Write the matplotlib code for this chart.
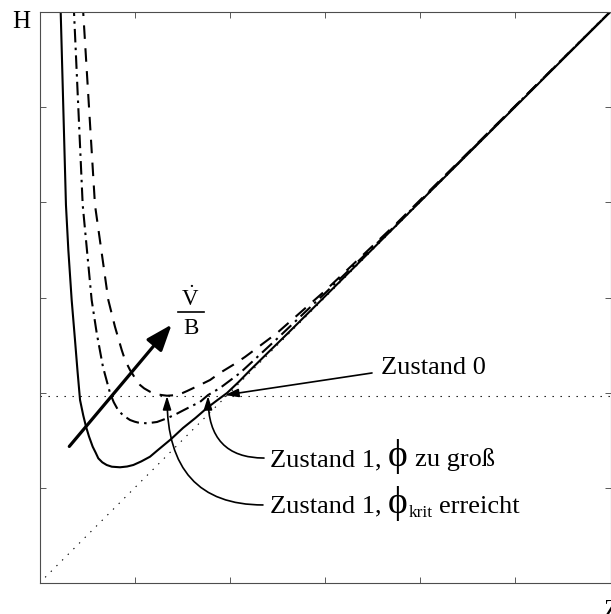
import matplotlib
matplotlib.use('Agg')
import matplotlib.pyplot as plt
from matplotlib.lines import Line2D

plt.rcParams['font.family'] = ['Liberation Serif', 'DejaVu Serif']
plt.rcParams['mathtext.fontset'] = 'custom'
plt.rcParams['mathtext.rm'] = 'Liberation Serif'
plt.rcParams['mathtext.it'] = 'Liberation Serif:italic'

# curves (z, H)
z_solid = [0.220, 0.278, 0.303, 0.338, 0.373, 0.400, 0.426, 0.460, 0.489, 0.520, 0.559, 0.590,
           0.618, 0.660, 0.706, 0.760, 0.846, 0.920, 0.986, 1.070, 1.161, 1.245, 1.380, 1.508,
           1.640, 1.760, 1.860, 1.970, 2.090, 2.212, 2.400, 2.600, 3.000, 4.000, 5.000, 6.000, 6.100]
H_solid = [6.100, 3.972, 3.499, 2.974, 2.553, 2.220, 1.923, 1.760, 1.642, 1.540, 1.432, 1.370,
           1.310, 1.268, 1.240, 1.222, 1.216, 1.224, 1.240, 1.278, 1.327, 1.398, 1.510, 1.629,
           1.735, 1.839, 1.915, 1.996, 2.110, 2.235, 2.420, 2.615, 3.012, 4.008, 5.005, 6.003, 6.103]

z_dashdot = [0.358, 0.454, 0.548, 0.601, 0.667, 0.741, 0.780, 0.825, 0.880, 0.951, 1.000, 1.035,
             1.130, 1.235, 1.340, 1.430, 1.518, 1.600, 1.686, 1.771, 1.897, 2.107, 2.300, 2.500,
             3.000, 3.756, 5.000, 6.000, 6.100]
H_dashdot = [6.100, 3.972, 2.974, 2.627, 2.270, 1.996, 1.900, 1.818, 1.760, 1.713, 1.695, 1.686,
             1.678, 1.692, 1.731, 1.772, 1.818, 1.860, 1.902, 1.975, 2.049, 2.207, 2.385, 2.570,
             3.045, 3.772, 5.012, 6.007, 6.107]

z_dashed = [0.453, 0.583, 0.723, 0.793, 0.864, 0.900, 0.951, 1.000, 1.056, 1.100, 1.161, 1.200,
            1.245, 1.290, 1.340, 1.445, 1.500, 1.550, 1.620, 1.686, 1.792, 1.900, 2.033, 2.159,
            2.300, 2.496, 3.000, 3.756, 5.000, 6.000, 6.100]
H_dashed = [6.100, 3.972, 2.974, 2.693, 2.448, 2.340, 2.238, 2.160, 2.081, 2.045, 2.010, 1.995,
            1.981, 1.974, 1.968, 1.975, 1.995, 2.017, 2.050, 2.081, 2.133, 2.210, 2.291, 2.375,
            2.480, 2.627, 3.070, 3.783, 5.015, 6.006, 6.106]

# reference lines
z_diag = [0, 6]
H_diag = [0, 6]
H_level = 1.97

# arrows: (tail), (tip)
vb_arrow = [(0.313, 1.435), (1.389, 2.716)]
arr_zustand0 = [(3.494, 2.207), (1.949, 1.975)]
arr_gross = [(2.359, 1.313), (1.771, 1.965)]
arr_krit = [(2.348, 0.820), (1.340, 1.965)]

W, Hpx = 611, 614
fig = plt.figure(figsize=(W / 100, Hpx / 100), dpi=100)
ax = fig.add_axes([39.5 / W, 31 / Hpx, 571 / W, 571 / Hpx])


def ftxt(px, py, s, **kw):
    fig.text(px / W, 1 - py / Hpx, s, **kw)


ax.plot(z_diag, H_diag, color='k', lw=0.8, ls=(0, (1.2, 6)))
ax.plot([0, 6], [H_level, H_level], color='k', lw=0.8, ls=(0, (1.2, 6)))

ax.plot(z_solid, H_solid, color='k', lw=1.5, solid_joinstyle='round')
ax.plot(z_dashdot, H_dashdot, color='k', lw=1.5, ls=(0, (6.5, 2.5, 1.2, 2.5)))
ax.plot(z_dashed, H_dashed, color='k', lw=1.5, ls=(0, (6.5, 4.5)))

ax.annotate('', xy=vb_arrow[1], xytext=vb_arrow[0],
            arrowprops=dict(arrowstyle='-|>,head_length=1.6,head_width=0.6', lw=2.3,
                            color='k', mutation_scale=10, shrinkA=0, shrinkB=0))
ax.annotate('', xy=arr_zustand0[1], xytext=arr_zustand0[0],
            arrowprops=dict(arrowstyle='-|>,head_length=0.8,head_width=0.25', lw=1.2,
                            color='k', mutation_scale=10, shrinkA=0, shrinkB=0))
ax.annotate('', xy=arr_gross[1], xytext=arr_gross[0],
            arrowprops=dict(arrowstyle='-|>,head_length=0.8,head_width=0.25', lw=1.2,
                            color='k', mutation_scale=10, shrinkA=0, shrinkB=0,
                            connectionstyle='angle3,angleA=0,angleB=90'))
ax.annotate('', xy=arr_krit[1], xytext=arr_krit[0],
            arrowprops=dict(arrowstyle='-|>,head_length=0.8,head_width=0.25', lw=1.2,
                            color='k', mutation_scale=10, shrinkA=0, shrinkB=0,
                            connectionstyle='angle3,angleA=0,angleB=90'))

ax.set_xlim(0, 6)
ax.set_ylim(0, 6)
ax.set_xticks(range(7))
ax.set_yticks(range(7))
ax.set_xticklabels([])
ax.set_yticklabels([])
ax.tick_params(direction='in', length=4, width=0.7, color='0.35',
               top=True, right=True)
for sp in ax.spines.values():
    sp.set_linewidth(0.8)
    sp.set_color('0.3')

# axis letters
ftxt(12, 28.5, 'H', fontsize=18, va='baseline')
ftxt(604, 617, 'Z', fontsize=18, va='baseline')

# V dot / B
ftxt(190, 305.7, r'$\dot{\mathrm{V}}$', fontsize=16.5, ha='center', va='baseline')
fig.add_artist(Line2D([177.7 / W, 204 / W], [1 - 311.7 / Hpx] * 2,
                      transform=fig.transFigure, color='k', lw=1.2))
ftxt(191, 334.5, 'B', fontsize=16.5, ha='center', va='baseline')

# annotation texts
ftxt(381, 374, 'Zustand 0', fontsize=19, va='baseline')
ftxt(270, 466, 'Zustand 1,', fontsize=19, va='baseline')
ftxt(388, 466, '\u03d5', fontsize=27, va='baseline')
ftxt(415, 466, 'zu groß', fontsize=19, va='baseline')
ftxt(270, 512.7, 'Zustand 1,', fontsize=19, va='baseline')
ftxt(388, 512.7, '\u03d5', fontsize=27, va='baseline')
ftxt(409, 517, 'krit', fontsize=12.5, va='baseline')
ftxt(439, 512.7, 'erreicht', fontsize=19, va='baseline')

fig.savefig('out.png', dpi=100)
